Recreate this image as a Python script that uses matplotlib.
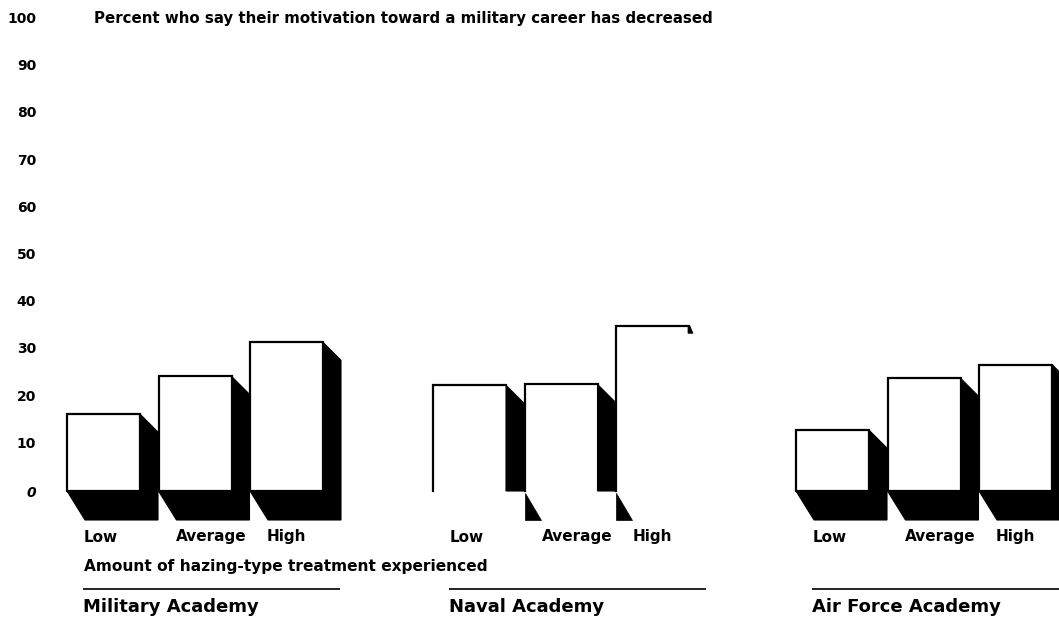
import matplotlib
matplotlib.use("Agg")
import matplotlib.pyplot as plt
from matplotlib.patches import Polygon, Rectangle

# ── Data ─────────────────────────────────────────────────────────────────────

ACADEMIES = ["Military Academy", "Naval Academy", "Air Force Academy"]
LEVELS    = ["Low", "Average", "High"]
MILITARY  = [16.3, 24.3, 31.5]
NAVAL     = [22.4, 22.6, 34.9]
AIR_FORCE = [12.9, 23.9, 26.8]
Y_TICKS   = [0, 10, 20, 30, 40, 50, 60, 70, 80, 90, 100]

TITLE  = "Percent who say their motivation toward a military career has decreased"
XLABEL = "Amount of hazing-type treatment experienced"

# ── Layout (pixels of the 1059x619 canvas) ───────────────────────────────────

W, H      = 1059, 619
BASE_PX   = 491          # pixel row of value 0
PPU       = 4.72         # pixels per percent
GROUP_X   = [67, 433, 796]
STEP      = 91.5
FACE_W    = 73
DX        = 18           # shadow offset to the right
SIDE_DY   = 18           # slant at the top of the side shadow
DEPTH     = 29           # shadow below the face
FACE_LW   = 1.6
FONT      = "DejaVu Sans"


def ypx(p):
    """pixel row -> data value"""
    return (BASE_PX - p) / PPU


def solid_bar(ax, x0, v):
    x1 = x0 + FACE_W
    side, depth = SIDE_DY / PPU, DEPTH / PPU
    ax.add_patch(Polygon([(x1, v), (x1 + DX, v - side), (x1 + DX, -depth),
                          (x0 + DX, -depth), (x0, 0), (x1, 0)],
                         closed=True, fc="black", ec="black", lw=0.8))
    ax.add_patch(Rectangle((x0, 0), FACE_W, v, fc="white", ec="black",
                           lw=FACE_LW))


def faded_bar(ax, x0, v, i, n):
    # the scan lost most of the ink on this group: only parts remain
    x1 = x0 + FACE_W
    side, depth = SIDE_DY / PPU, DEPTH / PPU
    ax.add_patch(Rectangle((x0, 0), FACE_W, v, fc="white", ec="none"))
    ax.plot([x0, x0, x1], [0, v, v], color="black", lw=FACE_LW,
            solid_joinstyle="miter")
    if i < n - 1:
        ax.add_patch(Polygon([(x1, v), (x1 + DX, v - side), (x1 + DX, 0),
                              (x1, 0)], closed=True, fc="black", ec="black",
                             lw=0.8))
    else:
        ax.add_patch(Polygon([(x1 - 1, v), (x1 + 1, v), (x1 + 4, v - 7 / PPU),
                              (x1 - 1, v - 7 / PPU)], closed=True,
                             fc="black", ec="black", lw=0.5))
    if i > 0:
        ax.add_patch(Polygon([(x0, ypx(493)), (x0, -depth),
                              (x0 + DX * 0.9, -depth)], closed=True,
                             fc="black", ec="black", lw=0.5))


# ── Figure ───────────────────────────────────────────────────────────────────

fig = plt.figure(figsize=(W / 100, H / 100), dpi=100)
ax = fig.add_axes([0, 0, 1, 1])
ax.set_xlim(0, W)
ax.set_ylim(ypx(H), ypx(0))
ax.set_axis_off()

for t in Y_TICKS:
    if t == 0:
        ax.text(36, ypx(493), "0", ha="right", va="center", fontsize=10,
                fontweight="bold", style="italic", family=FONT)
    else:
        ax.text(36, t, str(t), ha="right", va="center", fontsize=10,
                fontweight="bold", family=FONT)

ax.text(94, 100, TITLE, ha="left", va="center", fontsize=10.8,
        fontweight="bold", family=FONT)

series = [MILITARY, NAVAL, AIR_FORCE]
for g, (gx, vals) in enumerate(zip(GROUP_X, series)):
    for i, v in enumerate(vals):
        x0 = gx + i * STEP
        if ACADEMIES[g] == "Naval Academy":
            faded_bar(ax, x0, v, i, len(vals))
        else:
            solid_bar(ax, x0, v)
        ax.text(x0 + 17, ypx(537), LEVELS[i], ha="left", va="center",
                fontsize=11, fontweight="bold", family=FONT)
    ax.plot([gx + 16, gx + 273], [ypx(589), ypx(589)], color="black",
            lw=1.2, solid_capstyle="butt")
    ax.text(gx + 16, ypx(607), ACADEMIES[g], ha="left", va="center",
            fontsize=13, fontweight="bold", family=FONT)

ax.text(GROUP_X[0] + 17, ypx(567), XLABEL, ha="left", va="center",
        fontsize=11.1, fontweight="bold", family=FONT)

fig.savefig("out.png", dpi=100)
plt.close(fig)
